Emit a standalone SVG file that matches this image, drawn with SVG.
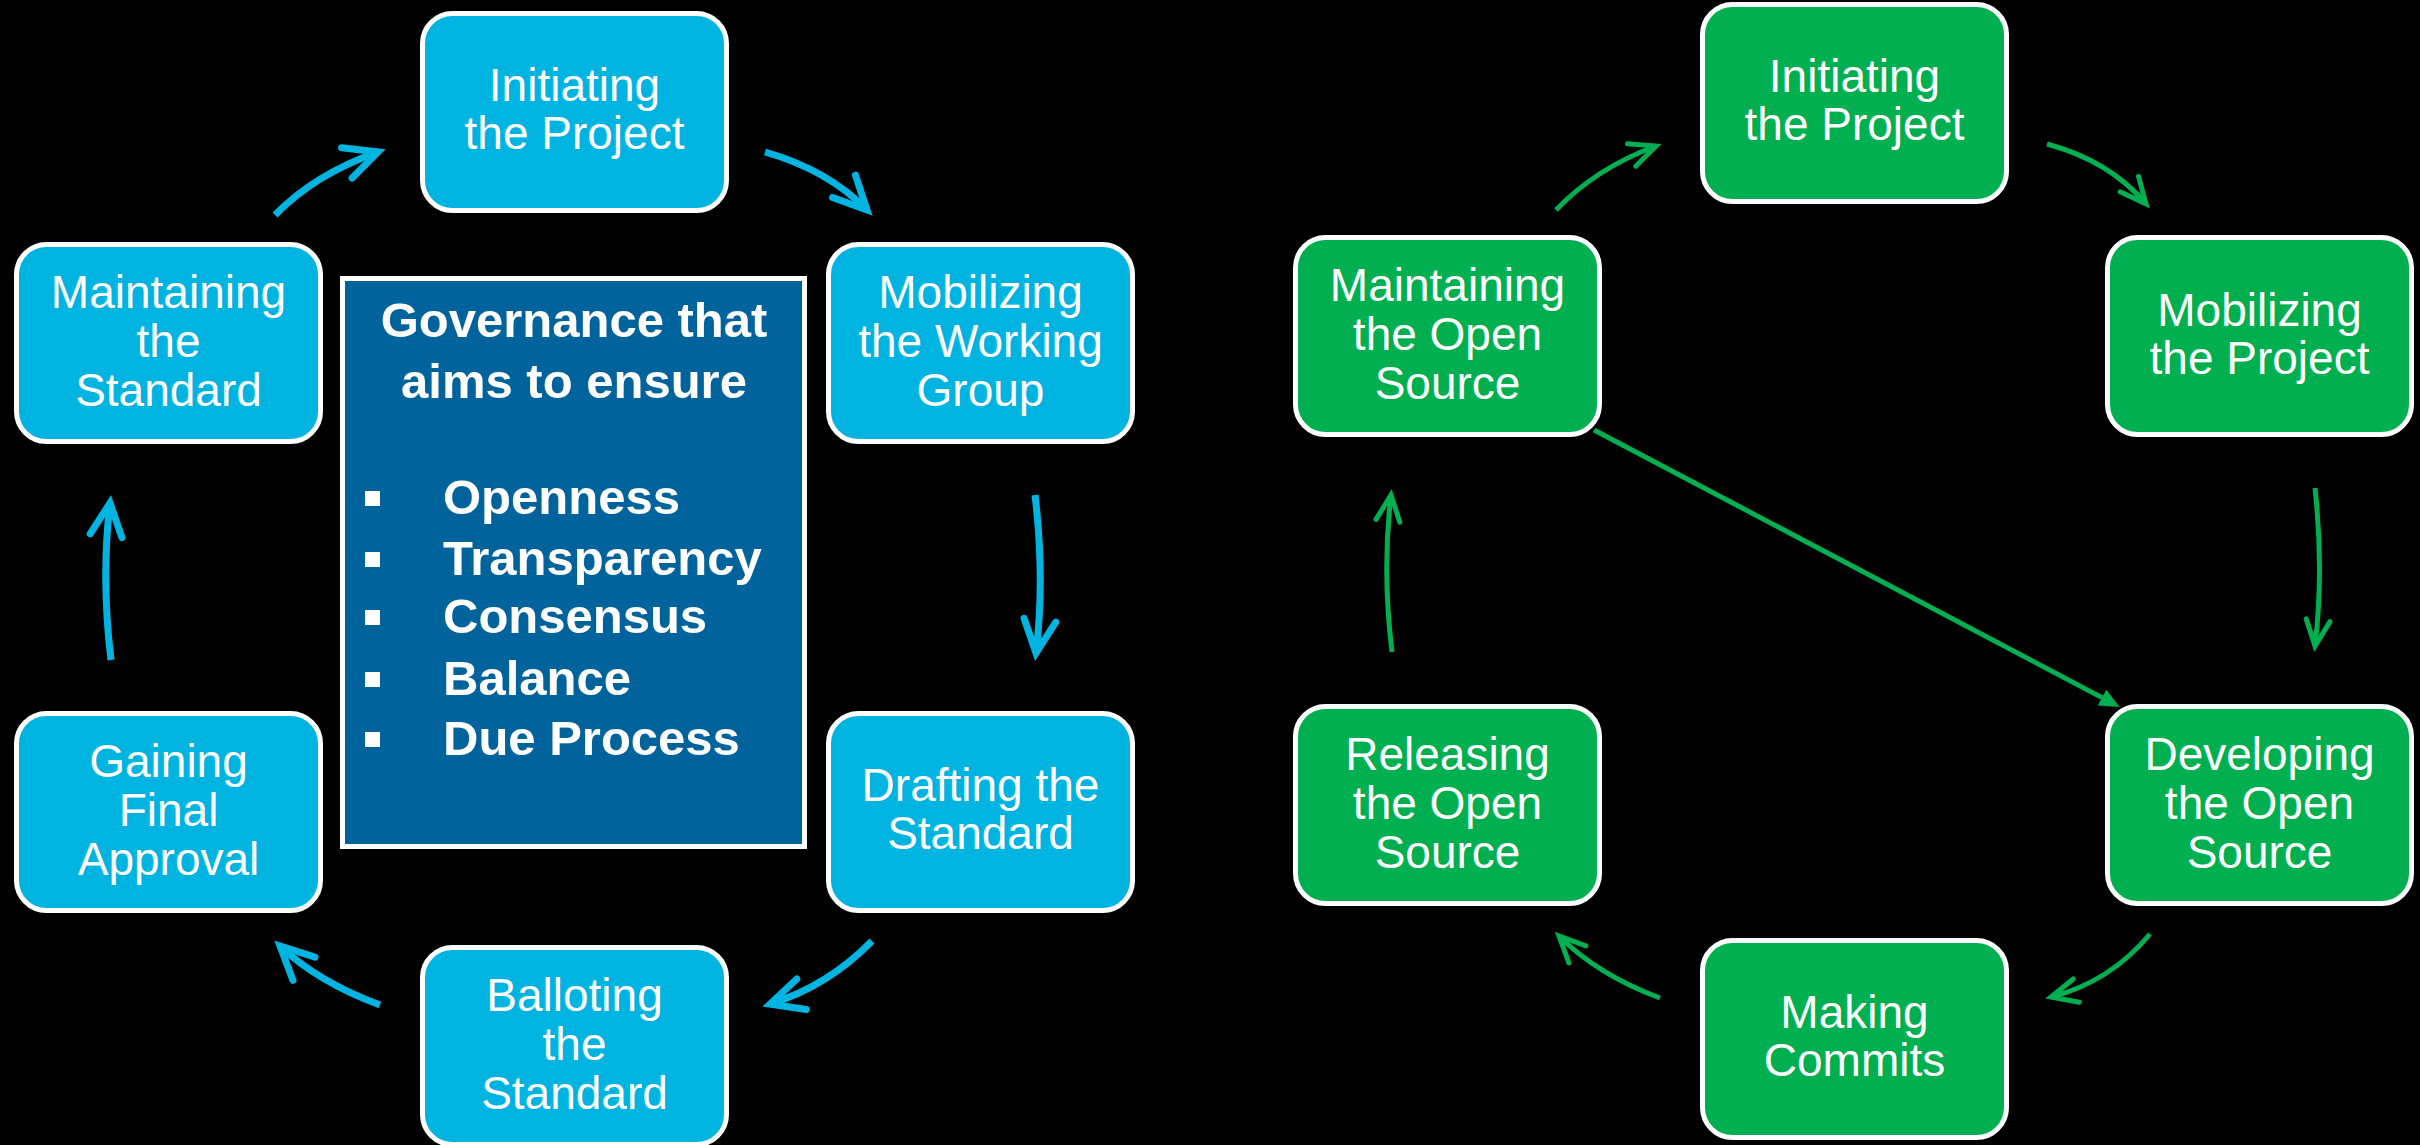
<svg xmlns="http://www.w3.org/2000/svg" width="2420" height="1145" viewBox="0 0 2420 1145">
<style>
.bg{fill:#000}
.nb{fill:#00B4E1;stroke:#fff;stroke-width:5}
.ng{fill:#00B050;stroke:#fff;stroke-width:5}
.gov{fill:#00639C;stroke:#fff;stroke-width:5}
.t{font-family:"Liberation Sans",Arial,sans-serif;font-size:46px;fill:#fff;text-anchor:middle}
.tb{font-family:"Liberation Sans",Arial,sans-serif;font-size:49px;font-weight:bold;fill:#fff}
.cb{fill:none;stroke:#00B4E1;stroke-width:7}
.cg{fill:none;stroke:#00B050;stroke-width:5}
</style>
<defs>
<marker id="hb" markerUnits="userSpaceOnUse" markerWidth="70" markerHeight="60" viewBox="-50 -30 70 60" refX="0" refY="0" orient="auto">
<path d="M-33,-16 L0,0 L-33,16" fill="none" stroke="#00B4E1" stroke-width="7" stroke-linecap="round" stroke-linejoin="miter"/>
</marker>
<marker id="hg" markerUnits="userSpaceOnUse" markerWidth="60" markerHeight="50" viewBox="-40 -25 60 50" refX="0" refY="0" orient="auto">
<path d="M-26,-12 L0,0 L-26,12" fill="none" stroke="#00B050" stroke-width="5" stroke-linecap="round" stroke-linejoin="miter"/>
</marker>
<marker id="tg" markerUnits="userSpaceOnUse" markerWidth="30" markerHeight="30" viewBox="-5 -15 30 30" refX="0" refY="0" orient="auto">
<path d="M0,-9 L20,0 L0,9 Z" fill="#00B050"/>
</marker>
</defs>
<rect class="bg" x="0" y="0" width="2420" height="1145"/>

<g id="connectors">
<path class="cb" d="M275,215 Q315,174 378,152" marker-end="url(#hb)"/>
<path class="cb" d="M765,152 Q828,170 867,210" marker-end="url(#hb)"/>
<path class="cb" d="M1035,495 Q1045,578 1036,653" marker-end="url(#hb)"/>
<path class="cb" d="M872,941 Q828,986 770,1004" marker-end="url(#hb)"/>
<path class="cb" d="M380,1005 Q318,982 280,946" marker-end="url(#hb)"/>
<path class="cb" d="M111,660 Q101,578 110,503" marker-end="url(#hb)"/>

<path class="cg" d="M1556,210 Q1596,168 1656,146" marker-end="url(#hg)"/>
<path class="cg" d="M2047,144 Q2110,161 2146,204" marker-end="url(#hg)"/>
<path class="cg" d="M2315,488 Q2324,570 2315,646" marker-end="url(#hg)"/>
<path class="cg" d="M2150,934 Q2110,982 2051,997" marker-end="url(#hg)"/>
<path class="cg" d="M1660,998 Q1598,975 1559,936" marker-end="url(#hg)"/>
<path class="cg" d="M1392,652 Q1382,571 1391,495" marker-end="url(#hg)"/>
<path class="cg" d="M1594,430 L2102,697.6" marker-end="url(#tg)"/>
</g>

<g id="governance">
<rect class="gov" x="342.5" y="278.5" width="462" height="568"/>
<text class="tb" x="574" y="337" text-anchor="middle">Governance that</text>
<text class="tb" x="574" y="398" text-anchor="middle">aims to ensure</text>
<rect x="365" y="491" width="15" height="15" fill="#fff"/>
<text class="tb" x="443" y="514">Openness</text>
<rect x="365" y="552" width="15" height="15" fill="#fff"/>
<text class="tb" x="443" y="575">Transparency</text>
<rect x="365" y="610" width="15" height="15" fill="#fff"/>
<text class="tb" x="443" y="633">Consensus</text>
<rect x="365" y="672" width="15" height="15" fill="#fff"/>
<text class="tb" x="443" y="695">Balance</text>
<rect x="365" y="732" width="15" height="15" fill="#fff"/>
<text class="tb" x="443" y="755">Due Process</text>
</g>

<g id="std-initiating">
<rect class="nb" x="422.5" y="13.5" width="304" height="197" rx="30"/>
<text class="t" x="574.5" y="101">Initiating</text>
<text class="t" x="574.5" y="149">the Project</text>
</g>
<g id="std-mobilizing">
<rect class="nb" x="828.5" y="244.5" width="304" height="197" rx="30"/>
<text class="t" x="980.5" y="308">Mobilizing</text>
<text class="t" x="980.5" y="357">the Working</text>
<text class="t" x="980.5" y="406">Group</text>
</g>
<g id="std-drafting">
<rect class="nb" x="828.5" y="713.5" width="304" height="197" rx="30"/>
<text class="t" x="980.5" y="801">Drafting the</text>
<text class="t" x="980.5" y="849">Standard</text>
</g>
<g id="std-balloting">
<rect class="nb" x="422.5" y="947.5" width="304" height="197" rx="30"/>
<text class="t" x="574.5" y="1011">Balloting</text>
<text class="t" x="574.5" y="1060">the</text>
<text class="t" x="574.5" y="1109">Standard</text>
</g>
<g id="std-gaining">
<rect class="nb" x="16.5" y="713.5" width="304" height="197" rx="30"/>
<text class="t" x="168.5" y="777">Gaining</text>
<text class="t" x="168.5" y="826">Final</text>
<text class="t" x="168.5" y="875">Approval</text>
</g>
<g id="std-maintaining">
<rect class="nb" x="16.5" y="244.5" width="304" height="197" rx="30"/>
<text class="t" x="168.5" y="308">Maintaining</text>
<text class="t" x="168.5" y="357">the</text>
<text class="t" x="168.5" y="406">Standard</text>
</g>

<g id="os-initiating">
<rect class="ng" x="1702.5" y="4.5" width="304" height="197" rx="30"/>
<text class="t" x="1854.5" y="92">Initiating</text>
<text class="t" x="1854.5" y="140">the Project</text>
</g>
<g id="os-mobilizing">
<rect class="ng" x="2107.5" y="237.5" width="304" height="197" rx="30"/>
<text class="t" x="2259.5" y="326">Mobilizing</text>
<text class="t" x="2259.5" y="374">the Project</text>
</g>
<g id="os-developing">
<rect class="ng" x="2107.5" y="706.5" width="304" height="197" rx="30"/>
<text class="t" x="2259.5" y="770">Developing</text>
<text class="t" x="2259.5" y="819">the Open</text>
<text class="t" x="2259.5" y="868">Source</text>
</g>
<g id="os-making">
<rect class="ng" x="1702.5" y="940.5" width="304" height="197" rx="30"/>
<text class="t" x="1854.5" y="1028">Making</text>
<text class="t" x="1854.5" y="1076">Commits</text>
</g>
<g id="os-releasing">
<rect class="ng" x="1295.5" y="706.5" width="304" height="197" rx="30"/>
<text class="t" x="1447.5" y="770">Releasing</text>
<text class="t" x="1447.5" y="819">the Open</text>
<text class="t" x="1447.5" y="868">Source</text>
</g>
<g id="os-maintaining">
<rect class="ng" x="1295.5" y="237.5" width="304" height="197" rx="30"/>
<text class="t" x="1447.5" y="301">Maintaining</text>
<text class="t" x="1447.5" y="350">the Open</text>
<text class="t" x="1447.5" y="399">Source</text>
</g>
</svg>
